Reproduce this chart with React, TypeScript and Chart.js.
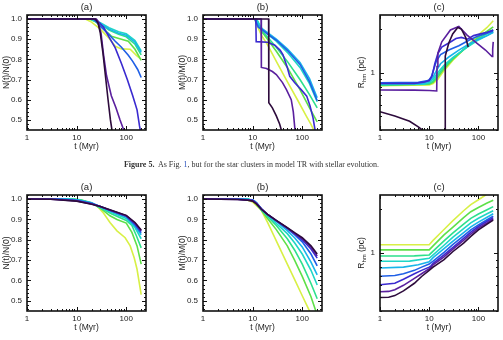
import React, { useEffect, useRef } from 'react';
import { Chart, registerables } from 'chart.js';

Chart.register(...registerables);

type Pt = [number, number];

const FONT = "'Liberation Sans', Arial, sans-serif";
const TEXT = '#1c1c1c';

// cluster colours, from the densest (dark) to the most extended (yellow)
const COLORS = ['#2d0b3c', '#5a1f9e', '#3a2ad0', '#1f5fe6', '#19b4ea', '#1fd6c6', '#2de08c', '#5ee048', '#d8f045'];

const X_TICKS = [1, 10, 100];
const X_MINOR = [2, 3, 4, 5, 6, 7, 8, 9, 20, 30, 40, 50, 60, 70, 80, 90, 200];
const FRAC_TICKS = [0.5, 0.6, 0.7, 0.8, 0.9, 1.0];
const FRAC_MINOR = [0.46, 0.48, 0.52, 0.54, 0.56, 0.58, 0.62, 0.64, 0.66, 0.68, 0.72, 0.74, 0.76, 0.78, 0.82, 0.84, 0.86, 0.88, 0.92, 0.94, 0.96, 0.98, 1.02];
const R_TICKS = [1];
const R_MINOR = [0.4, 0.5, 0.6, 0.7, 0.8, 0.9, 2];

// ---- model TR with stellar evolution: number fraction N(t)/N(0)
const trN: Pt[][] = [
  [[1, 1], [24, 1], [27, 0.98], [30, 0.93], [34, 0.83], [38, 0.72], [43, 0.6], [48, 0.5], [53, 0.43]],
  [[1, 1], [25, 1], [27, 0.99], [31, 0.93], [35, 0.82], [40, 0.72], [50, 0.62], [62, 0.56], [75, 0.5], [92, 0.44]],
  [[1, 1], [22, 1], [28, 0.985], [35, 0.96], [45, 0.91], [60, 0.857], [80, 0.78], [105, 0.7], [135, 0.62], [165, 0.55], [185, 0.47], [195, 0.44]],
  [[1, 1], [22, 1], [30, 0.965], [42, 0.93], [60, 0.89], [80, 0.86], [110, 0.82], [135, 0.79], [170, 0.75], [200, 0.71]],
  [[1, 1], [20, 1], [30, 0.978], [45, 0.95], [70, 0.93], [100, 0.92], [150, 0.885], [200, 0.835]],
  [[1, 1], [20, 1], [30, 0.982], [45, 0.957], [70, 0.937], [100, 0.927], [150, 0.893], [200, 0.842]],
  [[1, 1], [19, 1], [30, 0.975], [45, 0.945], [70, 0.925], [100, 0.912], [150, 0.875], [200, 0.822]],
  [[1, 1], [18, 1], [25, 0.985], [35, 0.95], [50, 0.915], [80, 0.9], [110, 0.89], [150, 0.85], [200, 0.795]],
  [[1, 1], [15, 1], [20, 0.985], [30, 0.95], [45, 0.905], [60, 0.865], [80, 0.852], [120, 0.85], [160, 0.82], [200, 0.8]],
];

// ---- model TR: mass fraction M(t)/M(0)
const trM: Pt[][] = [
  [[1, 1], [21, 1], [21.2, 0.585], [25, 0.56], [30, 0.52], [35, 0.48], [39, 0.44]],
  [[1, 1], [14.8, 1], [15, 0.76], [19, 0.755], [25, 0.74], [30, 0.725], [40, 0.685], [48, 0.65], [60, 0.6], [66, 0.54], [72, 0.44]],
  [[1, 1], [11.6, 1], [11.8, 0.888], [20, 0.885], [28, 0.87], [36, 0.845], [41, 0.823], [44, 0.8], [50, 0.76], [56, 0.716], [70, 0.685], [95, 0.65], [123, 0.618], [143, 0.57], [165, 0.51], [181, 0.45]],
  [[1, 1], [11, 1], [13, 0.96], [16, 0.945], [20, 0.925], [30, 0.895], [50, 0.845], [90, 0.775], [140, 0.69], [200, 0.595]],
  [[1, 1], [11.5, 1], [13, 0.97], [16, 0.95], [20, 0.932], [30, 0.9], [50, 0.852], [90, 0.785], [140, 0.705], [200, 0.61]],
  [[1, 1], [12, 1], [15, 0.955], [20, 0.925], [30, 0.89], [50, 0.835], [90, 0.76], [140, 0.68], [200, 0.59]],
  [[1, 1], [12, 1], [15, 0.945], [20, 0.91], [30, 0.86], [50, 0.79], [90, 0.7], [140, 0.625], [200, 0.56]],
  [[1, 1], [12, 1], [15, 0.94], [20, 0.9], [30, 0.84], [50, 0.76], [90, 0.65], [140, 0.56], [200, 0.49]],
  [[1, 1], [11, 1], [12.5, 0.965], [15, 0.92], [20, 0.872], [30, 0.79], [50, 0.69], [80, 0.6], [120, 0.52], [150, 0.478], [170, 0.45]],
];

// ---- model TR: half-mass radius (pc)
const trR: Pt[][] = [
  [[1, 0.535], [2, 0.5], [4, 0.46], [6, 0.42], [8, 0.39], [12, 0.35], [21, 0.3], [21.2, 1.3], [25, 1.6], [30, 1.85], [38, 2.05], [45, 2.0], [55, 1.75], [62, 1.5]],
  [[1, 0.757], [5, 0.755], [10, 0.75], [14.2, 0.745], [14.4, 1.1], [15, 1.36], [18, 1.63], [27, 1.97], [40, 2.08], [58, 1.82], [94, 1.59], [139, 1.43], [189, 1.29], [195, 1.45], [200, 1.63]],
  [[1, 0.84], [5, 0.84], [8, 0.86], [10, 0.88], [11.5, 0.95], [13, 1.15], [15, 1.35], [18, 1.5], [25, 1.6], [35, 1.72], [45, 1.75], [60, 1.7], [80, 1.8], [110, 1.85], [150, 1.9], [200, 1.97]],
  [[1, 0.85], [6, 0.855], [9, 0.875], [10, 0.89], [11, 0.93], [12, 1.02], [14, 1.2], [17, 1.33], [25, 1.43], [40, 1.53], [70, 1.7], [100, 1.79], [150, 1.87], [200, 1.94]],
  [[1, 0.835], [7, 0.84], [10, 0.87], [12, 0.93], [14, 1.03], [17, 1.15], [25, 1.28], [40, 1.43], [70, 1.6], [100, 1.7], [150, 1.8], [200, 1.9]],
  [[1, 0.825], [8, 0.83], [10, 0.855], [12, 0.9], [15, 1.0], [20, 1.12], [30, 1.27], [50, 1.44], [100, 1.68], [150, 1.8], [200, 1.9]],
  [[1, 0.82], [10, 0.84], [12, 0.87], [15, 0.96], [20, 1.09], [30, 1.25], [50, 1.44], [100, 1.72], [150, 1.86], [200, 1.97]],
  [[1, 0.815], [10, 0.83], [12, 0.855], [15, 0.93], [20, 1.06], [30, 1.23], [50, 1.44], [100, 1.76], [150, 1.93], [200, 2.07]],
  [[1, 0.81], [10, 0.82], [12, 0.84], [15, 0.9], [20, 1.03], [30, 1.21], [50, 1.44], [100, 1.82], [150, 2.05], [200, 2.28]],
];

// ---- next model: number fraction
const mdN: Pt[][] = [
  [[1, 1], [3, 0.999], [10, 0.99], [20, 0.975], [30, 0.963], [50, 0.945], [100, 0.92], [150, 0.885], [200, 0.848]],
  [[1, 1], [3, 0.999], [10, 0.991], [20, 0.976], [30, 0.963], [50, 0.944], [100, 0.918], [150, 0.882], [200, 0.845]],
  [[1, 1], [4, 0.999], [10, 0.992], [20, 0.977], [30, 0.963], [50, 0.943], [100, 0.917], [150, 0.879], [200, 0.842]],
  [[1, 1], [5, 0.999], [10, 0.994], [20, 0.979], [30, 0.964], [50, 0.942], [100, 0.915], [150, 0.874], [200, 0.835]],
  [[1, 1], [6, 1], [10, 0.996], [20, 0.981], [30, 0.962], [50, 0.94], [100, 0.912], [150, 0.868], [200, 0.825]],
  [[1, 1], [7, 1], [10, 0.997], [20, 0.982], [30, 0.96], [50, 0.935], [100, 0.905], [150, 0.86], [200, 0.805]],
  [[1, 1], [8, 1], [12, 0.996], [20, 0.982], [30, 0.957], [50, 0.928], [100, 0.895], [130, 0.87], [160, 0.82], [200, 0.76]],
  [[1, 1], [8, 1], [12, 0.995], [20, 0.98], [30, 0.955], [47, 0.918], [65, 0.9], [100, 0.882], [130, 0.836], [165, 0.77], [200, 0.68]],
  [[1, 1], [8, 1], [12, 0.995], [20, 0.98], [25, 0.97], [35, 0.93], [47, 0.885], [65, 0.844], [95, 0.81], [120, 0.77], [145, 0.71], [165, 0.655], [200, 0.53]],
];

// ---- next model: mass fraction
const mdM: Pt[][] = [
  [[1, 1], [5, 0.998], [8, 0.994], [10, 0.99], [12, 0.975], [15, 0.95], [20, 0.925], [30, 0.895], [50, 0.86], [70, 0.835], [100, 0.81], [150, 0.77], [200, 0.73]],
  [[1, 1], [5, 0.998], [8, 0.995], [10, 0.992], [12, 0.978], [15, 0.952], [20, 0.925], [30, 0.894], [50, 0.858], [70, 0.832], [100, 0.805], [150, 0.763], [200, 0.72]],
  [[1, 1], [5, 0.999], [8, 0.996], [10, 0.994], [12, 0.979], [15, 0.952], [20, 0.925], [30, 0.894], [50, 0.857], [70, 0.83], [100, 0.8], [150, 0.755], [200, 0.71]],
  [[1, 1], [6, 0.999], [10, 0.995], [12, 0.98], [15, 0.952], [20, 0.924], [30, 0.893], [50, 0.855], [70, 0.825], [100, 0.79], [150, 0.73], [200, 0.672]],
  [[1, 1], [7, 0.999], [10, 0.997], [12, 0.983], [15, 0.952], [20, 0.923], [30, 0.89], [50, 0.845], [70, 0.81], [100, 0.765], [150, 0.69], [200, 0.628]],
  [[1, 1], [8, 1], [11, 0.99], [15, 0.95], [20, 0.92], [30, 0.88], [50, 0.83], [70, 0.785], [100, 0.73], [150, 0.65], [200, 0.578]],
  [[1, 1], [8, 1], [11, 0.988], [15, 0.948], [20, 0.915], [30, 0.87], [50, 0.805], [70, 0.75], [100, 0.68], [150, 0.585], [200, 0.51]],
  [[1, 1], [8, 1], [11, 0.985], [15, 0.945], [20, 0.905], [30, 0.85], [50, 0.77], [70, 0.7], [100, 0.62], [150, 0.52], [200, 0.43]],
  [[1, 1], [7, 0.999], [10, 0.985], [15, 0.945], [20, 0.885], [30, 0.795], [50, 0.68], [70, 0.605], [100, 0.525], [136, 0.457], [200, 0.37]],
];

// ---- next model: half-mass radius (pc)
const mdR: Pt[][] = [
  [[1, 0.495], [1.5, 0.497], [2, 0.51], [3, 0.55], [5, 0.62], [7, 0.69], [10, 0.76], [11, 0.78], [12, 0.8], [20, 0.9], [30, 1.02], [50, 1.17], [70, 1.3], [100, 1.44], [150, 1.58], [200, 1.68]],
  [[1, 0.542], [1.5, 0.545], [2, 0.56], [3, 0.6], [5, 0.67], [7, 0.72], [10, 0.78], [11, 0.8], [12, 0.83], [20, 0.94], [30, 1.06], [50, 1.22], [70, 1.35], [100, 1.48], [150, 1.61], [200, 1.71]],
  [[1, 0.605], [2, 0.62], [3, 0.66], [5, 0.72], [7, 0.76], [10, 0.8], [11, 0.82], [12, 0.85], [20, 0.97], [30, 1.09], [50, 1.26], [70, 1.39], [100, 1.52], [150, 1.65], [200, 1.75]],
  [[1, 0.693], [2, 0.7], [3, 0.72], [5, 0.76], [7, 0.8], [10, 0.84], [12, 0.88], [20, 1.01], [30, 1.14], [50, 1.31], [70, 1.44], [100, 1.56], [150, 1.69], [200, 1.79]],
  [[1, 0.789], [3, 0.8], [6, 0.83], [10, 0.87], [12, 0.93], [20, 1.07], [30, 1.2], [50, 1.38], [70, 1.51], [100, 1.63], [150, 1.76], [200, 1.86]],
  [[1, 0.877], [4, 0.88], [10, 0.92], [12, 0.97], [20, 1.13], [30, 1.28], [50, 1.47], [70, 1.61], [100, 1.73], [150, 1.86], [200, 1.95]],
  [[1, 0.953], [5, 0.955], [10, 0.97], [12, 1.03], [20, 1.21], [30, 1.37], [50, 1.58], [70, 1.73], [100, 1.85], [150, 1.98], [200, 2.08]],
  [[1, 1.05], [10, 1.05], [12, 1.12], [20, 1.33], [30, 1.5], [50, 1.75], [70, 1.92], [100, 2.05], [150, 2.2], [200, 2.3]],
  [[1, 1.14], [10, 1.14], [12, 1.22], [20, 1.45], [30, 1.66], [50, 1.95], [70, 2.15], [100, 2.32], [140, 2.5], [150, 2.55]],
];

type Kind = 'N' | 'M' | 'R';

interface PanelProps {
  series: Pt[][];
  kind: Kind;
  label: string;
  left: number;
  top: number;
  plotW: number;
  plotH: number;
}

const AXIS_W = 27;
const AXIS_H = 22;
const TITLE_H = 15;
const PAD_R = 5;

const NO_GRID = { display: false, drawTicks: false, tickLength: 0 };

function makeChart(canvas: HTMLCanvasElement, p: PanelProps) {
  const isR = p.kind === 'R';
  const yMajor = isR ? R_TICKS : FRAC_TICKS;
  const yMinor = isR ? R_MINOR : FRAC_MINOR;

  const frame = {
    id: 'frameTicks',
    afterDatasetsDraw(chart: any) {
      const { ctx, chartArea: a } = chart;
      const xs = chart.scales.x;
      const ys = chart.scales.y;
      ctx.save();
      ctx.strokeStyle = '#111';
      ctx.lineWidth = 1;
      ctx.beginPath();
      const tx = (v: number, len: number) => {
        const px = Math.round(xs.getPixelForValue(v)) + 0.5;
        ctx.moveTo(px, a.bottom);
        ctx.lineTo(px, a.bottom - len);
        ctx.moveTo(px, a.top);
        ctx.lineTo(px, a.top + len);
      };
      const ty = (v: number, len: number) => {
        const py = Math.round(ys.getPixelForValue(v)) + 0.5;
        ctx.moveTo(a.left, py);
        ctx.lineTo(a.left + len, py);
        ctx.moveTo(a.right, py);
        ctx.lineTo(a.right - len, py);
      };
      X_TICKS.forEach((v) => tx(v, 4));
      X_MINOR.forEach((v) => tx(v, 2));
      yMajor.forEach((v) => ty(v, 4));
      yMinor.forEach((v) => ty(v, 2));
      ctx.stroke();
      ctx.lineWidth = 1.6;
      ctx.strokeRect(a.left, a.top, a.right - a.left, a.bottom - a.top);
      ctx.restore();
    },
  };

  // rotated "R_hm (pc)" with a real subscript
  const rTitle = {
    id: 'rhmTitle',
    afterDraw(chart: any) {
      if (!isR) return;
      const { ctx, chartArea: a } = chart;
      ctx.save();
      ctx.translate(a.left - 18, (a.top + a.bottom) / 2);
      ctx.rotate(-Math.PI / 2);
      ctx.fillStyle = TEXT;
      ctx.textBaseline = 'middle';
      ctx.textAlign = 'left';
      const big = `8.5px ${FONT}`;
      const small = `6px ${FONT}`;
      ctx.font = big;
      const wR = ctx.measureText('R').width;
      const wP = ctx.measureText(' (pc)').width;
      ctx.font = small;
      const wS = ctx.measureText('hm').width;
      let x = -(wR + wS + wP) / 2;
      ctx.font = big;
      ctx.fillText('R', x, 0);
      x += wR;
      ctx.font = small;
      ctx.fillText('hm', x, 2.5);
      x += wS;
      ctx.font = big;
      ctx.fillText(' (pc)', x, 0);
      ctx.restore();
    },
  };

  const datasets = p.series.map((pts, i) => ({
    data: pts.map(([x, y]) => ({ x, y })),
    borderColor: COLORS[i],
    borderWidth: 1.6,
    pointRadius: 0,
    tension: 0,
    fill: false,
    clip: 0,
  }));

  const yTitle = p.kind === 'N' ? 'N(t)/N(0)' : 'M(t)/M(0)';

  return new Chart(canvas, {
    type: 'line',
    data: { datasets } as any,
    options: {
      animation: false,
      responsive: false,
      events: [],
      layout: { padding: { top: 0, right: PAD_R, bottom: 0, left: 0 } },
      plugins: {
        legend: { display: false },
        tooltip: { enabled: false },
        title: {
          display: true,
          text: p.label,
          fullSize: false,
          color: TEXT,
          font: { family: FONT, size: 9.5, weight: 'normal' },
          padding: { top: 1.3, bottom: 2.3 },
        },
      },
      scales: {
        x: {
          type: 'logarithmic',
          min: 1,
          max: 250,
          afterBuildTicks: (s: any) => {
            s.ticks = X_TICKS.map((v) => ({ value: v }));
          },
          afterFit: (s: any) => {
            s.height = AXIS_H;
          },
          ticks: {
            callback: (v: any) => String(v),
            color: TEXT,
            font: { family: FONT, size: 8 },
            padding: 3,
            maxRotation: 0,
            autoSkip: false,
          },
          grid: NO_GRID,
          border: { display: false },
          title: {
            display: true,
            text: 't (Myr)',
            color: TEXT,
            font: { family: FONT, size: 8.5 },
            padding: 0,
          },
        },
        y: isR
          ? {
              type: 'logarithmic',
              min: 0.4,
              max: 2.5,
              afterBuildTicks: (s: any) => {
                s.ticks = R_TICKS.map((v) => ({ value: v }));
              },
              afterFit: (s: any) => {
                s.width = AXIS_W;
              },
              ticks: {
                callback: (v: any) => String(v),
                color: TEXT,
                font: { family: FONT, size: 8 },
                padding: 5,
                autoSkip: false,
              },
              grid: NO_GRID,
              border: { display: false },
              title: { display: false },
            }
          : {
              type: 'linear',
              min: 0.45,
              max: 1.02,
              afterBuildTicks: (s: any) => {
                s.ticks = FRAC_TICKS.map((v) => ({ value: v }));
              },
              afterFit: (s: any) => {
                s.width = AXIS_W;
              },
              ticks: {
                callback: (v: any) => Number(v).toFixed(1),
                color: TEXT,
                font: { family: FONT, size: 8 },
                padding: 5,
                autoSkip: false,
              },
              grid: NO_GRID,
              border: { display: false },
              title: {
                display: true,
                text: yTitle,
                color: TEXT,
                font: { family: FONT, size: 8.5 },
                padding: { top: 2, bottom: 0 },
              },
            },
      },
    } as any,
    plugins: [frame, rTitle],
  });
}

function Panel(p: PanelProps) {
  const ref = useRef<HTMLCanvasElement>(null);
  const width = AXIS_W + p.plotW + PAD_R;
  const height = TITLE_H + p.plotH + AXIS_H;
  useEffect(() => {
    const chart = makeChart(ref.current as HTMLCanvasElement, p);
    return () => chart.destroy();
  }, []);
  return (
    <canvas
      ref={ref}
      width={width}
      height={height}
      style={{ position: 'absolute', left: p.left - AXIS_W, top: p.top - TITLE_H, width, height, display: 'block' }}
    />
  );
}

export default function App() {
  return (
    <div style={{ position: 'absolute', left: 0, top: 0, width: 503, height: 340, background: '#fff', overflow: 'hidden' }}>
      <Panel series={trN} kind="N" label="(a)" left={27} top={15} plotW={119} plotH={115} />
      <Panel series={trM} kind="M" label="(b)" left={203} top={15} plotW={119} plotH={115} />
      <Panel series={trR} kind="R" label="(c)" left={380} top={15} plotW={118} plotH={115} />
      <div
        style={{
          position: 'absolute',
          left: 0,
          top: 160,
          width: 503,
          textAlign: 'center',
          fontFamily: "'Liberation Serif', 'Times New Roman', serif",
          fontSize: 8,
          lineHeight: '10px',
          color: '#333',
          whiteSpace: 'pre',
          willChange: 'transform',
        }}
      >
        <b>Figure 5.</b>
        {'  As Fig. '}
        <span style={{ color: '#2a52be' }}>1</span>
        {', but for the star clusters in model TR with stellar evolution.'}
      </div>
      <Panel series={mdN} kind="N" label="(a)" left={27} top={195} plotW={119} plotH={116} />
      <Panel series={mdM} kind="M" label="(b)" left={203} top={195} plotW={119} plotH={116} />
      <Panel series={mdR} kind="R" label="(c)" left={380} top={195} plotW={118} plotH={116} />
    </div>
  );
}
